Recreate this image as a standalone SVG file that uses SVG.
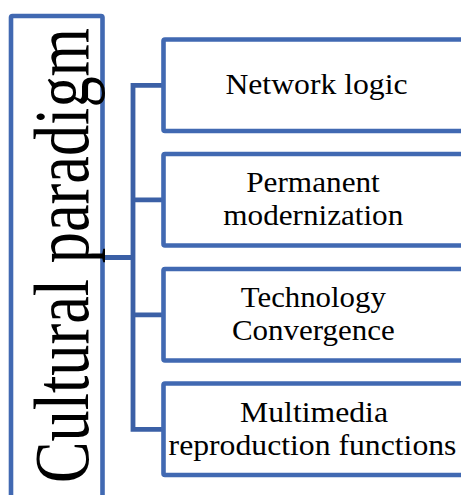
<svg xmlns="http://www.w3.org/2000/svg" width="461" height="495" viewBox="0 0 461 495">
<style>
.box{fill:#fff;stroke:#4169B2;stroke-width:4.6;stroke-linejoin:round}
.con{fill:none;stroke:#3B60A6;stroke-width:4.8;stroke-linejoin:miter}
.t{font-family:'Liberation Serif',serif;font-size:29.5px;fill:#000;text-anchor:middle}
.big{font-family:'Liberation Serif',serif;font-size:62.3px;fill:#000;text-anchor:middle}
</style>
<rect width="461" height="495" fill="#fff"/>
<g id="connectors">
<path class="con" d="M102.5,257.5 H133 M163.5,85.3 H133 V429.3 H163.5 M133,199.8 H163.5 M133,314.8 H163.5"/>
</g>
<g id="root">
<rect class="box" x="11" y="16" width="91.5" height="500" rx="1.5"/>
<text class="big" transform="translate(88,255.5) rotate(-90) scale(1,1.26)">Cultural paradigm</text>
</g>
<g id="n1">
<rect class="box" x="163.5" y="39.5" width="300" height="91.5" rx="1.5"/>
<text class="t" transform="translate(316.5,94.3) scale(1.075,1)">Network logic</text>
</g>
<g id="n2">
<rect class="box" x="163.5" y="154" width="300" height="91.5" rx="1.5"/>
<text class="t" transform="translate(313,192.3) scale(1.06,1)">Permanent</text>
<text class="t" transform="translate(313.3,225) scale(1.056,1)">modernization</text>
</g>
<g id="n3">
<rect class="box" x="163.5" y="269" width="300" height="91.5" rx="1.5"/>
<text class="t" transform="translate(313.3,306.7) scale(1.045,1)">Technology</text>
<text class="t" transform="translate(313.3,340) scale(1.05,1)">Convergence</text>
</g>
<g id="n4">
<rect class="box" x="163.5" y="383.5" width="300" height="91.5" rx="1.5"/>
<text class="t" transform="translate(314,422.3) scale(1.075,1)">Multimedia</text>
<text class="t" transform="translate(312.5,455) scale(1.075,1)">reproduction functions</text>
</g>
</svg>
